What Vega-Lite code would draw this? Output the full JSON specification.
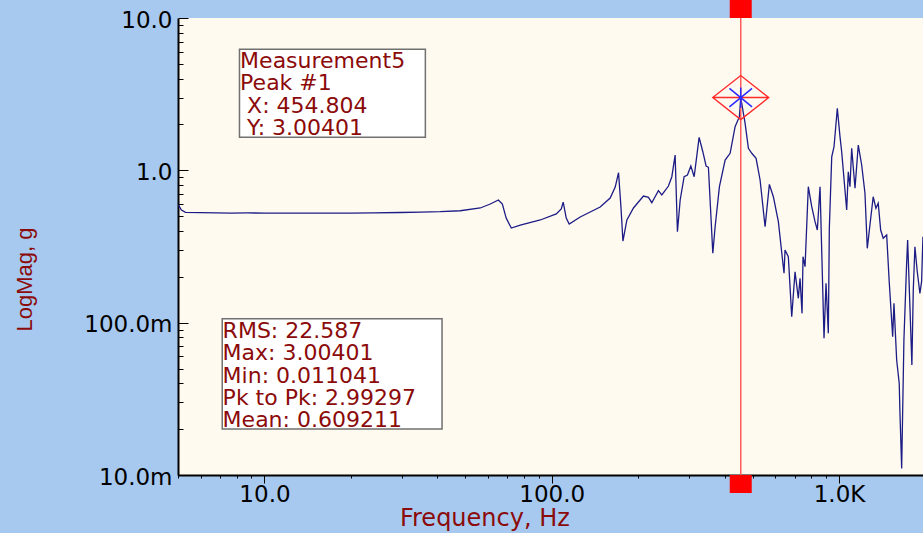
{
  "$schema": "https://vega.github.io/schema/vega-lite/v6.json",
  "width": 745,
  "height": 457,
  "autosize": {"type": "none"},
  "padding": {"left": 178, "top": 18, "right": 0, "bottom": 58},
  "background": "#a7c9ef",
  "config": {"view": {"fill": "#fffaef", "stroke": null}, "axis": {"grid": false}},
  "datasets": {
    "spectrum": [
      {"freq": 5.02, "mag": 0.592}, {"freq": 5.14, "mag": 0.549}, {"freq": 5.31, "mag": 0.53},
      {"freq": 5.99, "mag": 0.527}, {"freq": 6.8, "mag": 0.526}, {"freq": 7.62, "mag": 0.5245},
      {"freq": 8.7, "mag": 0.525}, {"freq": 10.0, "mag": 0.5245}, {"freq": 11.5, "mag": 0.523},
      {"freq": 13.34, "mag": 0.524}, {"freq": 16.0, "mag": 0.523}, {"freq": 19.9, "mag": 0.524},
      {"freq": 24.0, "mag": 0.525}, {"freq": 29.7, "mag": 0.5285}, {"freq": 35.0, "mag": 0.531},
      {"freq": 40.9, "mag": 0.535}, {"freq": 48.05, "mag": 0.543}, {"freq": 56.4, "mag": 0.566},
      {"freq": 61.1, "mag": 0.601}, {"freq": 65.2, "mag": 0.639}, {"freq": 67.3, "mag": 0.601},
      {"freq": 69.4, "mag": 0.486}, {"freq": 72.3, "mag": 0.418}, {"freq": 77.7, "mag": 0.4375},
      {"freq": 91.2, "mag": 0.472}, {"freq": 103.7, "mag": 0.517}, {"freq": 107.9, "mag": 0.5575},
      {"freq": 109.6, "mag": 0.619}, {"freq": 112.3, "mag": 0.486}, {"freq": 115.0, "mag": 0.444},
      {"freq": 125.6, "mag": 0.494}, {"freq": 147.4, "mag": 0.574}, {"freq": 159.7, "mag": 0.658},
      {"freq": 166.3, "mag": 0.777}, {"freq": 170.8, "mag": 0.965}, {"freq": 174.1, "mag": 0.577},
      {"freq": 176.9, "mag": 0.3436}, {"freq": 182.6, "mag": 0.472}, {"freq": 192.5, "mag": 0.566},
      {"freq": 208.5, "mag": 0.678}, {"freq": 217.1, "mag": 0.665}, {"freq": 223.0, "mag": 0.613},
      {"freq": 235.1, "mag": 0.735}, {"freq": 241.6, "mag": 0.689}, {"freq": 254.8, "mag": 0.789},
      {"freq": 261.8, "mag": 0.908}, {"freq": 268.8, "mag": 1.26}, {"freq": 273.8, "mag": 0.3954},
      {"freq": 279.9, "mag": 0.639}, {"freq": 288.9, "mag": 0.908}, {"freq": 296.7, "mag": 0.932},
      {"freq": 304.9, "mag": 1.067}, {"freq": 313.1, "mag": 0.908}, {"freq": 325.8, "mag": 1.647},
      {"freq": 335.6, "mag": 1.325}, {"freq": 344.6, "mag": 1.067}, {"freq": 351.0, "mag": 1.047},
      {"freq": 363.6, "mag": 0.2853}, {"freq": 370.4, "mag": 0.4264}, {"freq": 383.4, "mag": 0.781},
      {"freq": 401.3, "mag": 1.169}, {"freq": 417.7, "mag": 1.294}, {"freq": 434.7, "mag": 1.934},
      {"freq": 449.9, "mag": 2.249}, {"freq": 454.804, "mag": 3.00401}, {"freq": 471.0, "mag": 2.036},
      {"freq": 483.6, "mag": 1.395}, {"freq": 496.9, "mag": 1.294}, {"freq": 514.3, "mag": 1.199},
      {"freq": 531.1, "mag": 0.864}, {"freq": 552.8, "mag": 0.4264}, {"freq": 572.1, "mag": 0.809},
      {"freq": 590.7, "mag": 0.671}, {"freq": 614.9, "mag": 0.46}, {"freq": 636.8, "mag": 0.2513},
      {"freq": 643.5, "mag": 0.2109}, {"freq": 648.6, "mag": 0.2998}, {"freq": 666.0, "mag": 0.271},
      {"freq": 684.4, "mag": 0.1094}, {"freq": 702.8, "mag": 0.216}, {"freq": 721.6, "mag": 0.1445},
      {"freq": 731.5, "mag": 0.1955}, {"freq": 743.4, "mag": 0.1151}, {"freq": 749.3, "mag": 0.271},
      {"freq": 761.5, "mag": 0.233}, {"freq": 781.7, "mag": 0.781}, {"freq": 803.4, "mag": 0.577},
      {"freq": 824.9, "mag": 0.46}, {"freq": 840.3, "mag": 0.4057}, {"freq": 858.7, "mag": 0.781},
      {"freq": 886.6, "mag": 0.0789}, {"freq": 900.9, "mag": 0.1813}, {"freq": 917.7, "mag": 0.0851},
      {"freq": 925.1, "mag": 0.416}, {"freq": 943.1, "mag": 1.228}, {"freq": 960.7, "mag": 1.429},
      {"freq": 986.3, "mag": 2.554}, {"freq": 1007.7, "mag": 1.663}, {"freq": 1021.4, "mag": 1.325},
      {"freq": 1063.2, "mag": 0.549}, {"freq": 1076.9, "mag": 0.979}, {"freq": 1091.6, "mag": 0.781},
      {"freq": 1106.6, "mag": 1.395}, {"freq": 1136.5, "mag": 0.762}, {"freq": 1166.7, "mag": 1.466},
      {"freq": 1199, "mag": 1.084}, {"freq": 1231, "mag": 0.707}, {"freq": 1254, "mag": 0.3076},
      {"freq": 1281, "mag": 0.4375}, {"freq": 1315, "mag": 0.671}, {"freq": 1344, "mag": 0.563},
      {"freq": 1369, "mag": 0.6075}, {"freq": 1396, "mag": 0.4057}, {"freq": 1425, "mag": 0.3579},
      {"freq": 1465, "mag": 0.3763}, {"freq": 1495, "mag": 0.1857}, {"freq": 1537, "mag": 0.0808},
      {"freq": 1553, "mag": 0.134}, {"freq": 1587, "mag": 0.0569}, {"freq": 1620, "mag": 0.04},
      {"freq": 1629, "mag": 0.026}, {"freq": 1652, "mag": 0.011041}, {"freq": 1682, "mag": 0.0769},
      {"freq": 1719, "mag": 0.2453}, {"freq": 1733, "mag": 0.3489}, {"freq": 1765, "mag": 0.1272},
      {"freq": 1793, "mag": 0.0527}, {"freq": 1813, "mag": 0.1638}, {"freq": 1837, "mag": 0.315},
      {"freq": 1872, "mag": 0.216}, {"freq": 1912, "mag": 0.1558}, {"freq": 1938, "mag": 0.1857},
      {"freq": 1959, "mag": 0.3666}
    ],
    "peak": [{"freq": 454.804, "mag": 3.00401}]
  },
  "layer": [
    {
      "data": {"name": "spectrum"},
      "mark": {"type": "line", "color": "#1c1c86", "strokeWidth": 1.3, "clip": true},
      "encoding": {
        "x": {
          "field": "freq", "type": "quantitative",
          "scale": {"type": "log", "domain": [5, 1960], "nice": false},
          "axis": {
            "values": [5, 6, 7, 8, 9, 10, 20, 30, 40, 50, 60, 70, 80, 90, 100, 200, 300, 400, 500, 600, 700, 800, 900, 1000],
            "labelExpr": "datum.value == 10 ? '10.0' : datum.value == 100 ? '100.0' : datum.value == 1000 ? '1.0K' : ''",
            "tickSize": {"condition": {"test": "datum.value == 10 || datum.value == 100 || datum.value == 1000", "value": 8}, "value": 3},
            "tickColor": "black", "tickWidth": 1,
            "domainColor": "black", "domainWidth": 2,
            "labelFont": "DejaVu Sans", "labelFontSize": 23, "labelColor": "black",
            "labelBaseline": "alphabetic", "labelPadding": 18.7, "labelAlign": "center",
            "labelOverlap": false, "labelFlush": false, "labelBound": false,
            "title": "Frequency, Hz", "titleX": 306.4, "titleY": 50,
            "titleAlign": "center", "titleBaseline": "alphabetic",
            "titleFont": "DejaVu Sans", "titleFontSize": 24, "titleFontWeight": "normal", "titleColor": "#8b0a0a"
          }
        },
        "y": {
          "field": "mag", "type": "quantitative",
          "scale": {"type": "log", "domain": [0.01, 10], "nice": false},
          "axis": {
            "values": [0.01, 0.02, 0.03, 0.04, 0.05, 0.06, 0.07, 0.08, 0.09, 0.1, 0.2, 0.3, 0.4, 0.5, 0.6, 0.7, 0.8, 0.9, 1, 2, 3, 4, 5, 6, 7, 8, 9, 10],
            "labelExpr": "datum.value == 10 ? '10.0' : datum.value == 1 ? '1.0' : datum.value == 0.1 ? '100.0m' : datum.value == 0.01 ? '10.0m' : ''",
            "tickSize": {"condition": {"test": "datum.value == 10 || datum.value == 1 || datum.value == 0.1 || datum.value == 0.01", "value": -10}, "value": -5},
            "tickColor": "black", "tickWidth": 1,
            "domainColor": "black", "domainWidth": 2,
            "labelFont": "DejaVu Sans", "labelFontSize": 23, "labelColor": "black",
            "labelBaseline": "middle", "labelAlign": "right", "labelPadding": 16, "labelOffset": 2,
            "labelOverlap": false, "labelFlush": false, "labelBound": false,
            "title": "LogMag, g", "titleX": -147, "titleY": 261, "titleAngle": -90,
            "titleAlign": "center", "titleBaseline": "alphabetic",
            "titleFont": "Liberation Sans", "titleFontSize": 22, "titleFontWeight": "normal", "titleColor": "#8b0a0a"
          }
        }
      }
    },
    {
      "data": {"name": "peak"},
      "mark": {"type": "rule", "color": "#ff5c5c", "strokeWidth": 1.5},
      "encoding": {"x": {"field": "freq", "type": "quantitative"}}
    },
    {
      "data": {"name": "peak"},
      "mark": {"type": "point", "shape": "M-1,0L0,-0.786L1,0L0,0.786ZM-1,0L1,0", "size": 3136, "filled": false, "stroke": "#ff2a2a", "strokeWidth": 1.4, "opacity": 1},
      "encoding": {"x": {"field": "freq", "type": "quantitative"}, "y": {"field": "mag", "type": "quantitative"}}
    },
    {
      "data": {"name": "peak"},
      "mark": {"type": "point", "shape": "M-1,-0.82L1,0.82M-1,0.82L1,-0.82M0,-0.9L0,0.9", "size": 511, "filled": false, "stroke": "#2a2aff", "strokeWidth": 1.5, "opacity": 1},
      "encoding": {"x": {"field": "freq", "type": "quantitative"}, "y": {"field": "mag", "type": "quantitative"}}
    },
    {
      "data": {"name": "peak"},
      "mark": {"type": "point", "shape": "M-1,-0.818L1,-0.818L1,0.818L-1,0.818Z", "size": 484, "filled": true, "color": "#ff0000", "strokeWidth": 0, "opacity": 1, "yOffset": -9},
      "encoding": {"x": {"field": "freq", "type": "quantitative"}, "y": {"datum": 10, "type": "quantitative"}}
    },
    {
      "data": {"name": "peak"},
      "mark": {"type": "point", "shape": "M-1,-0.818L1,-0.818L1,0.818L-1,0.818Z", "size": 484, "filled": true, "color": "#ff0000", "strokeWidth": 0, "opacity": 1, "yOffset": 9},
      "encoding": {"x": {"field": "freq", "type": "quantitative"}, "y": {"datum": 0.01, "type": "quantitative"}}
    },
    {
      "data": {"name": "peak"},
      "mark": {"type": "rect", "fill": "white", "stroke": "#707070", "strokeWidth": 1.5},
      "encoding": {
        "x": {"datum": 8.185, "type": "quantitative"}, "x2": {"datum": 36.31},
        "y": {"datum": 6.23, "type": "quantitative"}, "y2": {"datum": 1.647}
      }
    },
    {
      "data": {"name": "peak"},
      "mark": {"type": "text", "text": ["Measurement5", "Peak #1", "\u200b\u00a0X: 454.804", "\u200b\u00a0Y: 3.00401"], "align": "left", "baseline": "alphabetic", "lineHeight": 22.2, "font": "DejaVu Sans", "fontSize": 22, "color": "#8b0a0a"},
      "encoding": {"x": {"datum": 8.226, "type": "quantitative"}, "y": {"datum": 4.676, "type": "quantitative"}}
    },
    {
      "data": {"name": "peak"},
      "mark": {"type": "rect", "fill": "white", "stroke": "#707070", "strokeWidth": 1.5},
      "encoding": {
        "x": {"datum": 7.128, "type": "quantitative"}, "x2": {"datum": 41.5},
        "y": {"datum": 0.1062, "type": "quantitative"}, "y2": {"datum": 0.02004}
      }
    },
    {
      "data": {"name": "peak"},
      "mark": {"type": "text", "text": ["RMS: 22.587", "Max: 3.00401", "Min: 0.011041", "Pk to Pk: 2.99297", "Mean: 0.609211"], "align": "left", "baseline": "alphabetic", "lineHeight": 22.1, "font": "DejaVu Sans", "fontSize": 22, "color": "#8b0a0a"},
      "encoding": {"x": {"datum": 7.15, "type": "quantitative"}, "y": {"datum": 0.0789, "type": "quantitative"}}
    }
  ]
}
